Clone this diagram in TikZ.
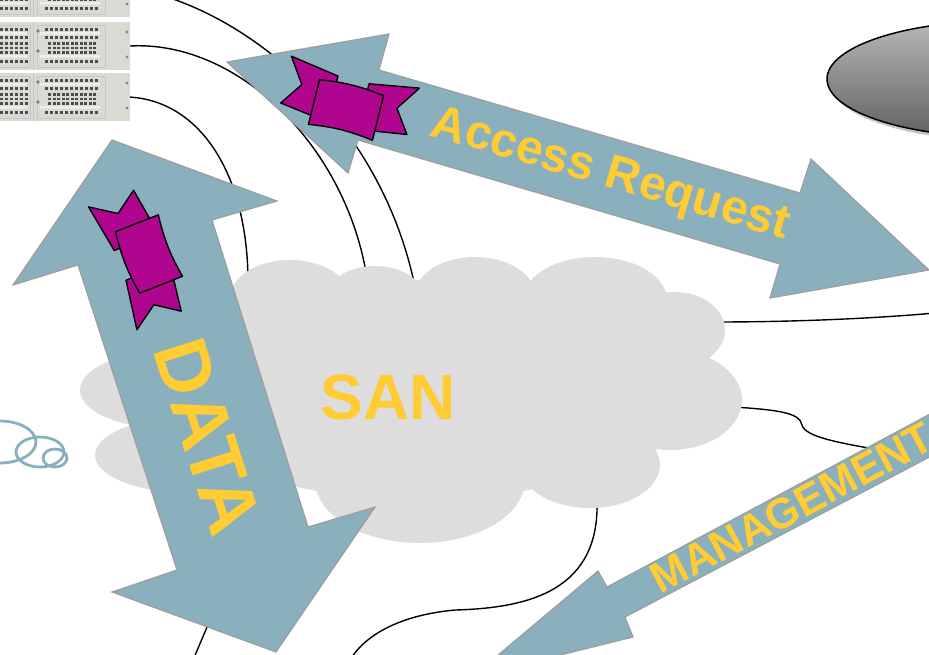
\documentclass[tikz,border=0pt]{standalone}
\usepackage{fontspec}
\setmainfont{Liberation Sans}
\usepackage{tikz}

\definecolor{arrowblue}{RGB}{138,175,189}
\definecolor{arrowedge}{RGB}{158,158,158}
\definecolor{sangray}{RGB}{221,221,221}
\definecolor{labelgold}{RGB}{255,204,51}
\definecolor{ribbonpink}{RGB}{176,6,143}
\definecolor{rackgray}{RGB}{218,218,213}
\definecolor{knob}{RGB}{150,140,80}

% one 2U storage shelf, #1 = top edge
\newcommand\serverrack[1]{%
  \begin{scope}[shift={(0,#1)}]
    \fill[rackgray] (0,0) rectangle (130,48);
    \draw[gray!45,line width=0.6pt] (33,0) -- (33,48) (37,3) rectangle (105,45) (-4,3) rectangle (30,45);
    \fill[white!55!rackgray] (40,10) rectangle (100,12.5) (40,33) rectangle (100,35.5)
                             (-4,10) rectangle (27,12.5) (-4,33) rectangle (27,35.5);
    \foreach \x in {45,50,...,95} {
      \fill[black!70] (\x,6) rectangle ++(3,2.5);
      \fill[black!70] (\x,14) rectangle ++(3,2.5);
      \fill[black!70] (\x,38) rectangle ++(3,2.5);
    }
    \foreach \x in {48,52.5,...,96}
      \foreach \y in {20,24.5,29}
        \fill[black!70] (\x,\y) rectangle ++(3,2.6);
    \foreach \x in {0,5,...,25} {
      \fill[black!70] (\x,6) rectangle ++(3,2.5);
      \fill[black!70] (\x,14) rectangle ++(3,2.5);
      \fill[black!70] (\x,38) rectangle ++(3,2.5);
      \foreach \y in {20,24.5,29}
        \fill[black!70] (\x,\y) rectangle ++(3,2.6);
    }
    \fill[gray] (38,9) circle (1.8) (38,29) circle (1.8);
    \fill[knob] (127,10) circle (1.6) (127,35) circle (1.6);
  \end{scope}}

\begin{document}
\begin{tikzpicture}[x=1pt,y=-1pt,
  fatarrow/.style={fill=arrowblue,draw=arrowedge,line width=1.2pt,line join=miter},
  cable/.style={draw=black,line width=1.4pt},
  lbl/.style={text=labelgold,inner sep=0pt},
  ribbon/.pic={
    \filldraw[fill=ribbonpink,draw=black,line width=1.4pt,line join=round]
      (-16,-22) -- (-16,-31) -- (-66,-39) -- (-49,-14) -- (-65,9) -- (-30,14) -- cycle
      (16,-22) -- (16,-31) -- (66,-39) -- (49,-14) -- (65,9) -- (30,14) -- cycle;
    \filldraw[fill=ribbonpink,draw=black,line width=1.4pt,line join=round]
      (-33,-23) to[bend left=8] (33,-23) -- (33,23) to[bend right=8] (-33,23) -- cycle;
  }]
\path[use as bounding box] (0,0) rectangle (929,654);
\clip (0,0) rectangle (929,654);

% cables
\draw[cable] (150,-8) .. controls (260,20) and (385,130) .. (416,292);
\draw[cable] (130,46) .. controls (240,40) and (350,150) .. (368,285);
\draw[cable] (128,97) .. controls (200,100) and (250,175) .. (248,290);
\draw[cable] (715,322) .. controls (800,322) and (880,318) .. (935,313);
\draw[cable] (735,407) .. controls (775,410) and (800,412) .. (802,425)
             .. controls (805,437) and (840,443) .. (880,450);
\draw[cable] (597,500) .. controls (600,590) and (530,608) .. (455,610)
             .. controls (400,615) and (365,635) .. (350,660);
\draw[cable] (225,585) -- (193,660);

% SAN cloud
\fill[sangray]
  (420,390) ellipse [x radius=260, y radius=110]
  (290,298) ellipse [x radius=60, y radius=38]
  (375,300) ellipse [x radius=50, y radius=34]
  (475,295) ellipse [x radius=60, y radius=38]
  (595,300) ellipse [x radius=72, y radius=43]
  (675,330) ellipse [x radius=50, y radius=38]
  (670,400) ellipse [x radius=72, y radius=50]
  (590,465) ellipse [x radius=70, y radius=43]
  (420,480) ellipse [x radius=105, y radius=63]
  (165,390) ellipse [x radius=85, y radius=38]
  (190,455) ellipse [x radius=95, y radius=38];
\node[lbl,font=\bfseries\fontsize{64}{64}\selectfont] (san) at (388,397) {SAN};

% small outlined cloud
\draw[arrowblue,line width=2.8pt]
  (0,442) ellipse [x radius=36, y radius=21]
  (40,452) ellipse [x radius=24, y radius=15]
  (55,458) ellipse [x radius=12, y radius=9];

% storage shelves
\serverrack{-31}
\serverrack{22}
\serverrack{73}

% disk
\fill[gray!45] (1003,83) ellipse [x radius=173, y radius=58];
\shadedraw[top color=black!28,bottom color=black!62,draw=black,line width=1.5pt]
  (1000,79) ellipse [x radius=173, y radius=58];

% arrows
\draw[fatarrow] (227,62) -- (389,34) -- (379,70) -- (800,193) -- (811,159) -- (929,270)
  -- (770,298) -- (780,264) -- (358,140) -- (348,173) -- cycle;
\draw[fatarrow] (112,140) -- (277,201) -- (212,220) -- (308,527) -- (375,507) -- (276,652)
  -- (112,592) -- (177,570) -- (78,265) -- (13,285) -- cycle;
\draw[fatarrow] (472,677) -- (598,571) -- (607,587) -- (960,398) -- (960,441)
  -- (625,617) -- (633,637) -- cycle;

\pic[rotate=-14] at (346,110) {ribbon};
\pic[rotate=111.5] at (149,254) {ribbon};

\node[lbl,font=\bfseries\fontsize{48}{48}\selectfont,rotate=-16.3] (access) at (610,176) {Access Request};
\node[lbl,font=\bfseries\fontsize{76}{76}\selectfont,rotate=-72.3] (data) at (208,437) {DATA};
\node[lbl,font=\bfseries\fontsize{43}{43}\selectfont,rotate=28.1] (mgmt) at (792,508) {MANAGEMENT};
\end{tikzpicture}
\end{document}
